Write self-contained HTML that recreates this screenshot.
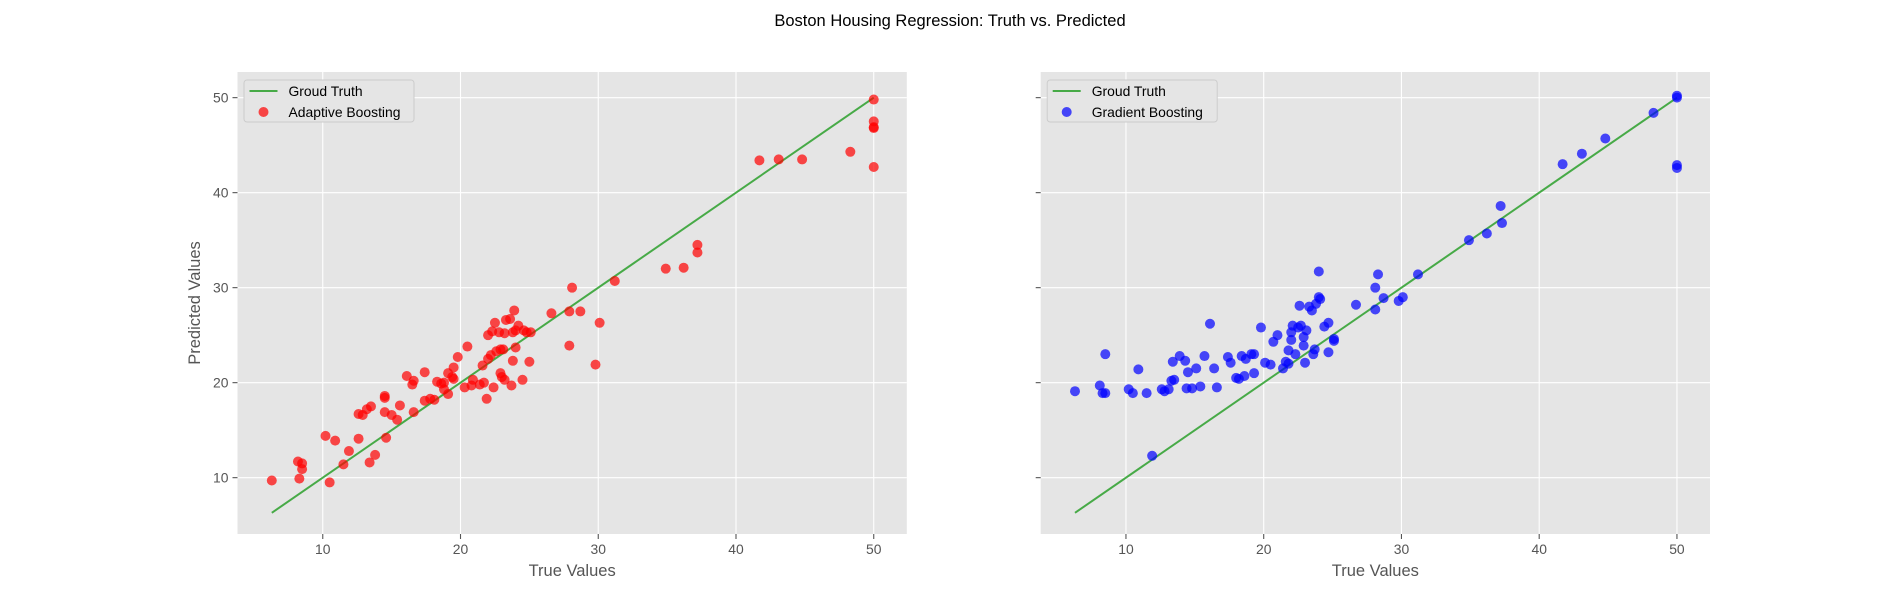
<!DOCTYPE html>
<html><head><meta charset="utf-8">
<style>html,body{margin:0;padding:0;background:#fff;}svg{display:block;font-family:"Liberation Sans","DejaVu Sans",sans-serif;}</style>
</head><body>
<svg id="chart" width="1900" height="600" xmlns="http://www.w3.org/2000/svg">
<text x="950" y="26" text-anchor="middle" font-size="16.5" fill="#000">Boston Housing Regression: Truth vs. Predicted</text>
</svg>
<script>
const xTicks = [10, 20, 30, 40, 50];
const yTicks = [10, 20, 30, 40, 50];
const truthLine = [6.3, 50];
const adaTrue = [6.3,8.2,8.3,8.5,8.5,10.2,10.5,10.9,11.5,11.9,12.6,12.6,12.9,13.2,13.4,13.5,13.8,14.5,14.5,14.5,14.6,15,15.4,15.6,16.1,16.5,16.6,16.6,17.4,17.4,17.8,18.1,18.3,18.6,18.8,18.8,19.1,19.1,19.4,19.5,19.5,19.8,20.3,20.5,20.8,20.9,21.4,21.6,21.7,21.9,22,22,22.2,22.3,22.4,22.5,22.6,22.8,22.9,22.9,23,23.1,23.2,23.2,23.3,23.6,23.7,23.8,23.8,23.9,24,24,24.2,24.5,24.6,24.8,25,25.1,26.6,27.9,27.9,28.1,28.7,29.8,30.1,31.2,34.9,36.2,37.2,37.2,41.7,43.1,44.8,48.3,50,50,50,50,50];
const adaPred = [9.7,11.7,9.9,11.5,10.9,14.4,9.5,13.9,11.4,12.8,14.1,16.7,16.6,17.2,11.6,17.5,12.4,18.6,18.4,16.9,14.2,16.6,16.1,17.6,20.7,19.8,20.2,16.9,21.1,18.1,18.3,18.2,20.1,19.9,19.3,20,21,18.8,20.6,20.4,21.6,22.7,19.5,23.8,19.7,20.3,19.8,21.8,20,18.3,22.5,25,22.9,25.4,19.5,26.3,23.3,25.3,23.5,21,20.6,23.5,25.2,20.3,26.6,26.7,19.7,25.3,22.3,27.6,25.5,23.7,26,20.3,25.5,25.3,22.2,25.3,27.3,23.9,27.5,30,27.5,21.9,26.3,30.7,32,32.1,33.7,34.5,43.4,43.5,43.5,44.3,49.8,47.5,46.8,46.9,42.7];
const gbTrue = [6.3,8.1,8.3,8.5,8.5,10.2,10.5,10.9,11.5,11.9,12.6,12.8,13.1,13.3,13.4,13.5,13.9,14.3,14.4,14.5,14.8,15.1,15.4,15.7,16.1,16.4,16.6,17.4,17.6,18.0,18.2,18.4,18.6,18.7,19.1,19.3,19.3,19.8,20.1,20.5,20.7,21,21.4,21.6,21.8,21.8,22.0,22.0,22.1,22.3,22.5,22.6,22.7,22.9,22.9,23,23.1,23.3,23.5,23.6,23.7,23.8,24,24,24.1,24.4,24.7,24.7,25.1,25.1,26.7,28.1,28.1,28.3,28.7,29.8,30.1,31.2,34.9,36.2,37.2,37.3,41.7,43.1,44.8,48.3,50,50,50,50];
const gbPred = [19.1,19.7,18.9,23,18.9,19.3,18.9,21.4,18.9,12.3,19.3,19.1,19.3,20.2,22.2,20.3,22.8,22.3,19.4,21.1,19.4,21.5,19.6,22.8,26.2,21.5,19.5,22.7,22.1,20.5,20.4,22.8,20.7,22.5,23,23,21,25.8,22.1,21.9,24.3,25,21.5,22.2,23.4,22,25.3,24.5,26,23,25.8,28.1,26,24.8,23.9,22.1,25.5,28,27.6,23,23.5,28.3,31.7,29,28.8,25.9,26.3,23.2,24.6,24.4,28.2,30,27.7,31.4,28.9,28.6,29,31.4,35,35.7,38.6,36.8,43,44.1,45.7,48.4,50.2,50,42.9,42.6];

const NS = "http://www.w3.org/2000/svg";
const svg = document.getElementById('chart');
const XMIN = 3.81, XMAX = 52.4, YMIN = 4.07, YMAX = 52.7;
const TOP = 72, BOT = 534, W = 669.3;
function mk(tag, attrs, parent) {
  const e = document.createElementNS(NS, tag);
  for (const k in attrs) e.setAttribute(k, attrs[k]);
  (parent || svg).appendChild(e);
  return e;
}
function panel(left, xs, ys, color, label, showY, pfx) {
  const g = mk('g', {});
  
  
  const sx = v => left + (v - XMIN) / (XMAX - XMIN) * W;
  const sy = v => BOT - (v - YMIN) / (YMAX - YMIN) * (BOT - TOP);
  const bg = mk('rect', {x: left, y: TOP, width: W, height: BOT - TOP, fill: '#E5E5E5'}, g);
  
  
  xTicks.forEach(t => {
    const x = sx(t);
    mk('line', {x1: x, x2: x, y1: TOP, y2: BOT, stroke: '#fff', 'stroke-width': 1.1}, g);
    mk('line', {x1: x, x2: x, y1: BOT, y2: BOT + 5, stroke: '#555', 'stroke-width': 1.1}, g);
    const tl = mk('text', {x: x, y: BOT + 20, 'text-anchor': 'middle', 'font-size': 13.9, fill: '#555'}, g);
    tl.textContent = t;
    
    
  });
  yTicks.forEach(t => {
    const y = sy(t);
    mk('line', {x1: left, x2: left + W, y1: y, y2: y, stroke: '#fff', 'stroke-width': 1.1}, g);
    mk('line', {x1: left - 5, x2: left, y1: y, y2: y, stroke: '#555', 'stroke-width': 1.1}, g);
    if (showY) {
      const tl = mk('text', {x: left - 9, y: y + 5, 'text-anchor': 'end', 'font-size': 13.9, fill: '#555'}, g);
      tl.textContent = t;
      
      
    }
  });
  const ln = mk('line', {x1: sx(truthLine[0]), y1: sy(truthLine[0]), x2: sx(truthLine[1]), y2: sy(truthLine[1]), stroke: '#2ca02c', 'stroke-opacity': 0.85, 'stroke-width': 2}, g);
  
  
  xs.forEach((v, i) => {
    const c = mk('circle', {cx: sx(v), cy: sy(ys[i]), r: 5, fill: color, 'fill-opacity': 0.7}, g);
    
    
  });
  const xl = mk('text', {x: left + W / 2, y: 576, 'text-anchor': 'middle', 'font-size': 16.5, fill: '#555'}, g);
  xl.textContent = 'True Values';
  
  
  if (showY) {
    const yl = mk('text', {x: 0, y: 0, 'text-anchor': 'middle', 'font-size': 16.5, fill: '#555', transform: 'translate(200,' + (TOP + BOT) / 2 + ') rotate(-90)'}, g);
    yl.textContent = 'Predicted Values';
    
    
  }
  const lg = mk('g', {}, g);
  
  
  const lw = label.length > 18 ? 176 : 170;
  mk('rect', {x: left + 6.5, y: 80, width: lw, height: 42, rx: 3, fill: '#E5E5E5', stroke: '#ccc', 'stroke-width': 1}, lg);
  mk('line', {x1: left + 12, x2: left + 40, y1: 91, y2: 91, stroke: '#2ca02c', 'stroke-opacity': 0.85, 'stroke-width': 2}, lg);
  const t1 = mk('text', {x: left + 51, y: 96, 'font-size': 13.9, fill: '#000'}, lg);
  t1.textContent = 'Groud Truth';
  
  
  mk('circle', {cx: left + 26, cy: 112, r: 5, fill: color, 'fill-opacity': 0.7}, lg);
  const t2 = mk('text', {x: left + 51, y: 117, 'font-size': 13.9, fill: '#000'}, lg);
  t2.textContent = label;
  
  
}
panel(237.5, adaTrue, adaPred, '#ff0000', 'Adaptive Boosting', true, 'left');
panel(1040.7, gbTrue, gbPred, '#0000ff', 'Gradient Boosting', false, 'right');
</script>
</body></html>
